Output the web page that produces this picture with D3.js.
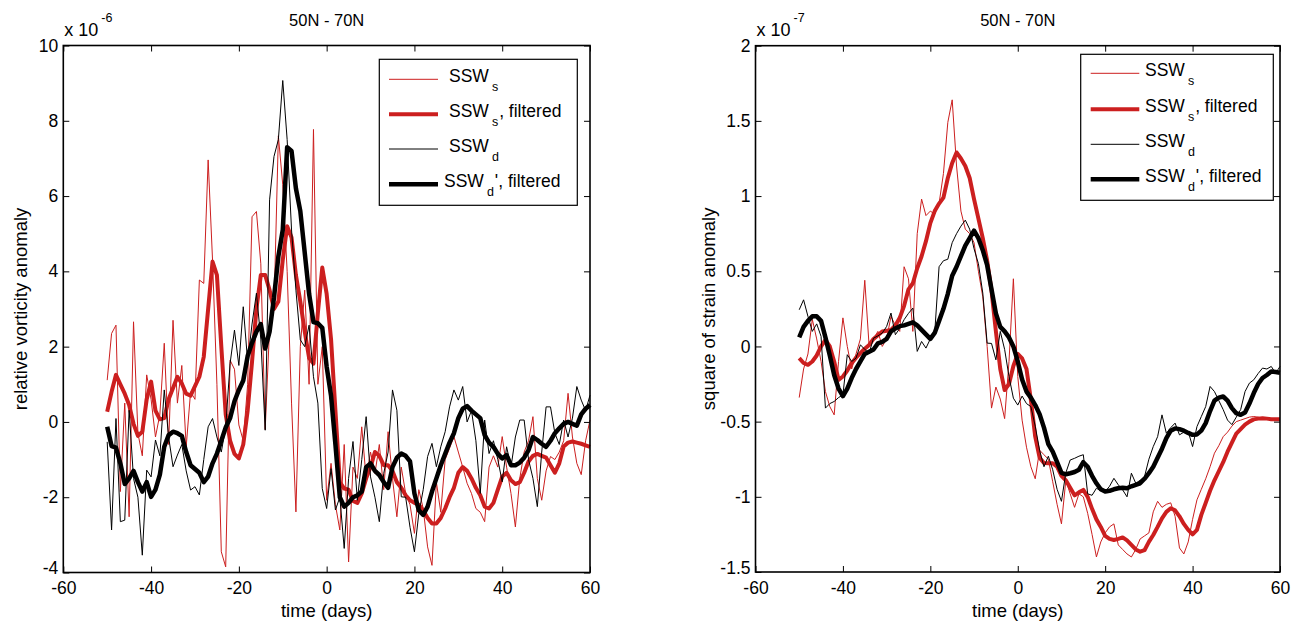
<!DOCTYPE html>
<html>
<head>
<meta charset="utf-8">
<script src="https://cdn.jsdelivr.net/npm/d3@7/dist/d3.min.js"></script>
<style>
  html, body { margin: 0; padding: 0; background: #fff; }
  svg { display: block; }
  text { font-family: "Liberation Sans", Arial, Helvetica, sans-serif; fill: #000; }
</style>
</head>
<body>
<svg id="chart" width="1291" height="623"></svg>
<script>
// ---------------- DATA ----------------
const days = [-50,-49,-48,-47,-46,-45,-44,-43,-42,-41,-40,-39,-38,-37,-36,-35,-34,-33,-32,-31,-30,-29,-28,-27,-26,-25,-24,-23,-22,-21,-20,-19,-18,-17,-16,-15,-14,-13,-12,-11,-10,-9,-8,-7,-6,-5,-4,-3,-2,-1,0,1,2,3,4,5,6,7,8,9,10,11,12,13,14,15,16,17,18,19,20,21,22,23,24,25,26,27,28,29,30,31,32,33,34,35,36,37,38,39,40,41,42,43,44,45,46,47,48,49,50,51,52,53,54,55,56,57,58,59,60];

const xTicks = [-60,-40,-20,0,20,40,60];
const vortTicks = [-4,-2,0,2,4,6,8,10];
const strainTicks = [-1.5,-1,-0.5,0,0.5,1,1.5,2];

const panelTitle = "50N - 70N";
const xLabel = "time (days)";
const vortLabel = "relative vorticity anomaly";
const strainLabel = "square of strain anomaly";

// Relative vorticity anomaly (x 1e-6)
const vortSSWs = [1.11,2.35,2.57,-1.85,0.5,-2.52,2.66,-0.3,-0.9,1.25,0.6,-0.4,0.2,2.09,-0.6,2.7,0.5,1.5,-0.66,0.8,0.6,3.77,3.68,6.96,4.3,1.0,-3.45,-3.85,1.64,1.4,-0.08,-0.5,1.0,5.45,5.59,4.2,-0.2,2.5,3.0,7.6,6.3,4.0,0.5,-2.39,2.0,3.5,1.0,7.77,1.0,2.0,-2.08,-1.1,-2.2,-2.87,-0.6,-3.72,-1.2,-1.5,-0.13,-1.5,-0.8,-1.37,-0.6,-1.8,-0.26,-1.5,-2.52,-1.2,-1.9,-2.2,-2.96,-1.8,-2.3,-3.32,-3.81,-1.6,-2.4,-1.0,-0.7,-0.39,-0.8,-1.2,-1.63,-1.9,-2.3,-2.4,-2.65,-1.2,-0.9,-1.2,-0.39,-1.2,-1.9,-2.79,-1.5,-0.8,-0.5,0.14,-1.5,-2.08,-1.3,-0.92,-1.0,-0.8,-0.5,0.76,-0.4,-1.1,-1.4,-0.5,0.05];
const vortSSWsFilt = [0.27,0.8,1.25,1.0,0.75,0.45,-0.05,-0.37,-0.26,0.6,1.07,0.3,0.07,0.1,0.6,0.9,1.2,1.02,0.75,0.7,0.95,1.2,1.73,3.0,4.26,3.9,2.0,0.2,-0.5,-0.85,-0.97,-0.6,0.3,1.6,3.0,3.9,3.9,3.5,3.0,3.2,4.3,5.2,4.9,3.9,3.2,2.4,1.7,1.55,2.9,4.1,3.4,2.2,0.3,-1.6,-1.77,-1.8,-2.1,-2.15,-1.9,-1.5,-1.2,-0.8,-0.9,-1.15,-1.15,-1.3,-1.6,-1.75,-1.95,-2.08,-2.15,-2.2,-2.35,-2.55,-2.7,-2.7,-2.55,-2.3,-2.0,-1.75,-1.35,-1.2,-1.3,-1.5,-1.75,-1.95,-2.25,-2.3,-2.15,-1.8,-1.45,-1.35,-1.55,-1.65,-1.6,-1.35,-1.05,-0.9,-0.85,-0.9,-0.95,-1.15,-1.35,-1.1,-0.65,-0.55,-0.52,-0.55,-0.58,-0.62,-0.66];
const vortSSWd = [-0.53,-2.87,0.09,-2.65,-2.61,0.31,-1.5,-2.0,-3.54,-1.28,-1.46,-0.48,-0.9,0.85,-0.4,-1.19,-0.88,-0.6,-1.3,-1.81,-1.72,-1.94,-1.0,-0.13,0.09,-0.4,-0.8,-0.13,1.55,2.44,1.5,3.06,1.6,2.6,3.42,2.2,-0.22,5.9,7.05,7.5,9.07,7.5,5.1,3.5,2.18,2.0,2.57,1.2,0.5,-1.77,-2.3,-1.24,-2.34,-2.0,-3.36,-1.5,-0.52,-2.08,-1.0,0.14,-1.46,-2.0,-2.65,-1.37,-0.8,0.85,0.31,-1.99,-2.0,-2.8,-3.45,-2.43,-1.8,-0.92,-0.57,-1.19,-0.66,-0.26,0.4,0.85,0.58,0.94,0.0,0.3,-0.5,-1.9,0.05,-0.84,-0.5,-1.0,-1.59,-0.66,-1.2,-0.4,0.05,0.05,-1.0,-1.5,-2.25,-0.8,0.4,0.4,-0.3,-0.6,0.05,-0.4,0.1,0.94,0.58,0.3,0.71];
const vortSSWdFilt = [-0.13,-0.64,-0.68,-1.1,-1.65,-1.5,-1.3,-1.6,-1.85,-1.6,-1.99,-1.8,-1.4,-0.66,-0.35,-0.26,-0.3,-0.37,-0.8,-1.15,-1.25,-1.35,-1.6,-1.45,-1.1,-0.84,-0.5,-0.15,0.1,0.55,0.85,1.1,1.75,2.1,2.4,2.6,1.95,2.4,3.3,4.4,5.1,7.3,7.2,6.2,5.6,4.5,3.4,2.65,2.62,2.5,1.47,0.7,-0.6,-2.0,-2.25,-2.15,-2.0,-1.95,-1.85,-1.2,-1.1,-1.3,-1.41,-1.6,-1.75,-1.2,-0.95,-0.84,-0.9,-1.05,-1.9,-2.35,-2.47,-2.25,-1.85,-1.5,-1.15,-0.85,-0.55,-0.3,0.1,0.35,0.42,0.3,0.2,0.1,-0.35,-0.55,-0.66,-0.85,-0.97,-0.88,-1.15,-1.15,-1.08,-0.95,-0.75,-0.4,-0.48,-0.58,-0.66,-0.5,-0.3,-0.17,-0.05,0.0,-0.05,-0.1,0.2,0.35,0.45];

// Square of strain anomaly (x 1e-7)
const strainSSWs = [-0.34,-0.15,-0.05,0.18,0.05,-0.1,-0.3,-0.4,-0.455,-0.1,0.19,0.0,-0.15,-0.05,0.05,0.44,0.0,0.05,0.1,0.0,0.05,0.2,0.14,0.1,0.53,0.45,0.1,0.75,0.98,0.87,0.9,0.88,0.95,1.15,1.49,1.64,1.2,0.9,0.78,0.75,0.69,0.5,0.33,0.0,-0.41,-0.27,-0.35,-0.48,-0.1,0.45,-0.2,-0.49,-0.67,-0.8,-0.88,-0.69,-0.72,-0.75,-0.9,-1.05,-1.18,-0.89,-0.98,-1.07,-0.98,-1.0,-1.11,-1.25,-1.4,-1.3,-1.24,-1.2,-1.18,-1.32,-1.35,-1.38,-1.4,-1.35,-1.28,-1.26,-1.24,-1.1,-1.03,-1.07,-1.05,-1.04,-1.13,-1.34,-1.38,-1.3,-1.15,-1.02,-0.95,-0.88,-0.8,-0.71,-0.66,-0.6,-0.57,-0.53,-0.5,-0.49,-0.48,-0.47,-0.466,-0.47,-0.477,-0.48,-0.485,-0.488,-0.49];
const strainSSWsFilt = [-0.078,-0.11,-0.122,-0.1,-0.06,0.0,0.044,0.0,-0.1,-0.222,-0.2,-0.16,-0.111,-0.075,-0.045,-0.015,0.01,0.05,0.075,0.1,0.105,0.11,0.14,0.19,0.27,0.38,0.42,0.52,0.6,0.7,0.82,0.9,0.95,0.99,1.12,1.22,1.29,1.25,1.2,1.12,0.98,0.85,0.72,0.57,0.37,0.1,-0.15,-0.29,-0.25,-0.13,-0.05,-0.08,-0.15,-0.355,-0.6,-0.74,-0.775,-0.777,-0.777,-0.8,-0.86,-0.89,-0.94,-0.99,-0.97,-0.954,-1.0,-1.08,-1.15,-1.2,-1.26,-1.28,-1.287,-1.28,-1.27,-1.29,-1.32,-1.35,-1.365,-1.355,-1.3,-1.254,-1.2,-1.143,-1.1,-1.076,-1.09,-1.13,-1.18,-1.22,-1.25,-1.22,-1.12,-1.04,-0.96,-0.89,-0.83,-0.77,-0.7,-0.64,-0.58,-0.55,-0.52,-0.5,-0.485,-0.48,-0.477,-0.48,-0.484,-0.484,-0.484];
const strainSSWd = [0.244,0.31,0.2,0.1,0.15,0.067,-0.41,-0.38,-0.366,-0.34,-0.322,-0.055,-0.1,-0.078,0.011,-0.02,-0.044,0.055,0.07,0.089,0.133,0.222,0.078,0.12,0.178,0.22,0.255,-0.033,0.033,-0.011,0.05,0.089,0.53,0.57,0.58,0.69,0.75,0.8,0.84,0.78,0.65,0.55,0.355,0.022,0.02,-0.089,0.1,-0.02,-0.2,-0.344,-0.39,-0.33,-0.38,-0.4,-0.53,-0.69,-0.8,-0.73,-0.82,-0.95,-1.03,-0.84,-0.755,-0.744,-0.73,-0.72,-0.98,-0.99,-0.943,-0.96,-0.965,-0.93,-0.877,-0.92,-0.954,-1.0,-0.843,-0.91,-0.89,-0.866,-0.75,-0.666,-0.6,-0.455,-0.577,-0.54,-0.51,-0.588,-0.57,-0.566,-0.666,-0.533,-0.466,-0.4,-0.266,-0.3,-0.36,-0.42,-0.49,-0.52,-0.47,-0.42,-0.3,-0.244,-0.222,-0.18,-0.144,-0.15,-0.133,-0.178,-0.133];
const strainSSWdFilt = [0.06,0.13,0.17,0.2,0.2,0.17,0.06,-0.06,-0.19,-0.28,-0.33,-0.28,-0.21,-0.15,-0.1,-0.05,-0.035,-0.02,0.02,0.03,0.05,0.1,0.12,0.135,0.14,0.15,0.16,0.14,0.11,0.08,0.05,0.09,0.17,0.25,0.35,0.47,0.53,0.6,0.67,0.72,0.77,0.72,0.64,0.54,0.38,0.22,0.13,0.1,0.06,0.0,-0.1,-0.22,-0.3,-0.34,-0.39,-0.45,-0.54,-0.65,-0.7,-0.77,-0.84,-0.85,-0.843,-0.835,-0.82,-0.77,-0.8,-0.86,-0.91,-0.95,-0.965,-0.96,-0.95,-0.943,-0.94,-0.943,-0.93,-0.92,-0.91,-0.88,-0.843,-0.8,-0.74,-0.68,-0.61,-0.56,-0.545,-0.55,-0.56,-0.575,-0.588,-0.585,-0.56,-0.51,-0.43,-0.36,-0.34,-0.333,-0.36,-0.41,-0.444,-0.455,-0.44,-0.38,-0.31,-0.25,-0.21,-0.19,-0.166,-0.17,-0.175];

// ---------------- DRAWING ----------------
const RED = "#cc1f1f";
const svg = d3.select("#chart");
svg.append("rect").attr("width", 1291).attr("height", 623).attr("fill", "#fff");

function panel(cfg) {
  const { left, right, top, bottom, yDomain, yTicks, series, ylabel, ylabelX, exponent, legend } = cfg;
  const x = d3.scaleLinear().domain([-60, 60]).range([left, right]);
  const y = d3.scaleLinear().domain(yDomain).range([bottom, top]);
  const g = svg.append("g");
  const fmt = d => String(d);

  // lines
  const line = d3.line().x((d, i) => x(days[i])).y(d => y(d));
  series.forEach(s => {
    g.append("path").datum(s.data)
      .attr("d", line)
      .attr("fill", "none")
      .attr("stroke", s.color)
      .attr("stroke-width", s.width)
      .attr("stroke-linejoin", "round")
      .attr("stroke-linecap", "butt");
  });

  // axes (MATLAB style, inward ticks, box)
  const fs = "17.5px";
  const ax = [
    g.append("g").attr("transform", `translate(0,${bottom})`)
      .call(d3.axisBottom(x).tickValues(xTicks).tickSize(-6).tickPadding(9.5).tickFormat(fmt)),
    g.append("g").attr("transform", `translate(0,${top})`)
      .call(d3.axisTop(x).tickValues(xTicks).tickSize(-6).tickFormat("")),
    g.append("g").attr("transform", `translate(${left},0)`)
      .call(d3.axisLeft(y).tickValues(yTicks).tickSize(-6).tickPadding(5).tickFormat(fmt)),
    g.append("g").attr("transform", `translate(${right},0)`)
      .call(d3.axisRight(y).tickValues(yTicks).tickSize(-6).tickFormat(""))
  ];
  ax.forEach(a => {
    a.select(".domain").remove();
    a.selectAll(".tick line").attr("stroke", "#000").attr("stroke-width", 1);
    a.selectAll(".tick text").attr("font-size", fs).attr("font-family", "Liberation Sans, Arial, sans-serif").attr("fill", "#000");
  });
  // keep the lowest y tick label clear of the first x tick label
  ax[2].selectAll(".tick text").filter(d => d === yDomain[0]).attr("dy", "0.08em");

  g.append("rect")
    .attr("x", left).attr("y", top)
    .attr("width", right - left).attr("height", bottom - top)
    .attr("fill", "none").attr("stroke", "#000").attr("stroke-width", 1.6);

  // title
  g.append("text").attr("x", (left + right) / 2).attr("y", 26)
    .attr("text-anchor", "middle").attr("font-size", "16.5px").text(panelTitle);

  // exponent
  const ex = g.append("text").attr("x", left + 1).attr("y", 36).attr("font-size", "18px");
  ex.append("tspan").text("x 10");
  ex.append("tspan").attr("font-size", "12.5px").attr("dy", -14).attr("dx", 3).text(exponent);

  // x label
  g.append("text").attr("x", (left + right) / 2).attr("y", 617)
    .attr("text-anchor", "middle").attr("font-size", "18.5px").text(xLabel);

  // y label
  g.append("text")
    .attr("transform", `translate(${ylabelX},${(top + bottom) / 2}) rotate(-90)`)
    .attr("text-anchor", "middle").attr("font-size", "18.5px").text(ylabel);

  // legend
  const L = legend;
  g.append("rect").attr("x", L.x0).attr("y", L.y0)
    .attr("width", L.x1 - L.x0).attr("height", L.y1 - L.y0)
    .attr("fill", "#fff").attr("stroke", "#000").attr("stroke-width", 1.2);
  L.entries.forEach((e, i) => {
    const ry = L.rows[i];
    g.append("line").attr("x1", L.lx0).attr("x2", L.lx1).attr("y1", ry).attr("y2", ry)
      .attr("stroke", e.color).attr("stroke-width", e.width);
    const t = g.append("text").attr("x", e.tx).attr("y", ry + 3).attr("font-size", "17.5px");
    t.append("tspan").text("SSW");
    t.append("tspan").attr("font-size", "12.5px").attr("dy", 9).attr("dx", 3).text(e.sub);
    if (e.rest) t.append("tspan").attr("dy", -9).attr("dx", 1).text(e.rest);
  });
}

const legendEntries = (tx, tx4) => [
  { color: RED, width: 1, sub: "s", rest: "", tx: tx },
  { color: RED, width: 4, sub: "s", rest: ", filtered", tx: tx },
  { color: "#000", width: 1, sub: "d", rest: "", tx: tx },
  { color: "#000", width: 4.5, sub: "d", rest: "', filtered", tx: tx4 }
];

panel({
  left: 63.3, right: 590, top: 45.5, bottom: 572.5,
  yDomain: [-4, 10], yTicks: vortTicks,
  series: [
    { data: vortSSWs, color: RED, width: 1 },
    { data: vortSSWsFilt, color: RED, width: 4 },
    { data: vortSSWd, color: "#000", width: 1 },
    { data: vortSSWdFilt, color: "#000", width: 4.5 }
  ],
  ylabel: vortLabel, ylabelX: 27, exponent: "-6",
  legend: { x0: 379.3, y0: 59.3, x1: 577.3, y1: 205.3, lx0: 389, lx1: 438,
            rows: [79.3, 114.3, 149, 184.3], entries: legendEntries(449, 444) }
});

panel({
  left: 755.5, right: 1280, top: 45.7, bottom: 572,
  yDomain: [-1.5, 2], yTicks: strainTicks,
  series: [
    { data: strainSSWs, color: RED, width: 1 },
    { data: strainSSWsFilt, color: RED, width: 4 },
    { data: strainSSWd, color: "#000", width: 1 },
    { data: strainSSWdFilt, color: "#000", width: 4.5 }
  ],
  ylabel: strainLabel, ylabelX: 715, exponent: "-7",
  legend: { x0: 1080.7, y0: 54.3, x1: 1273.3, y1: 200.3, lx0: 1090.7, lx1: 1139.3,
            rows: [73.3, 109.3, 144.3, 179.3], entries: legendEntries(1145, 1145) }
});
</script>
</body>
</html>
